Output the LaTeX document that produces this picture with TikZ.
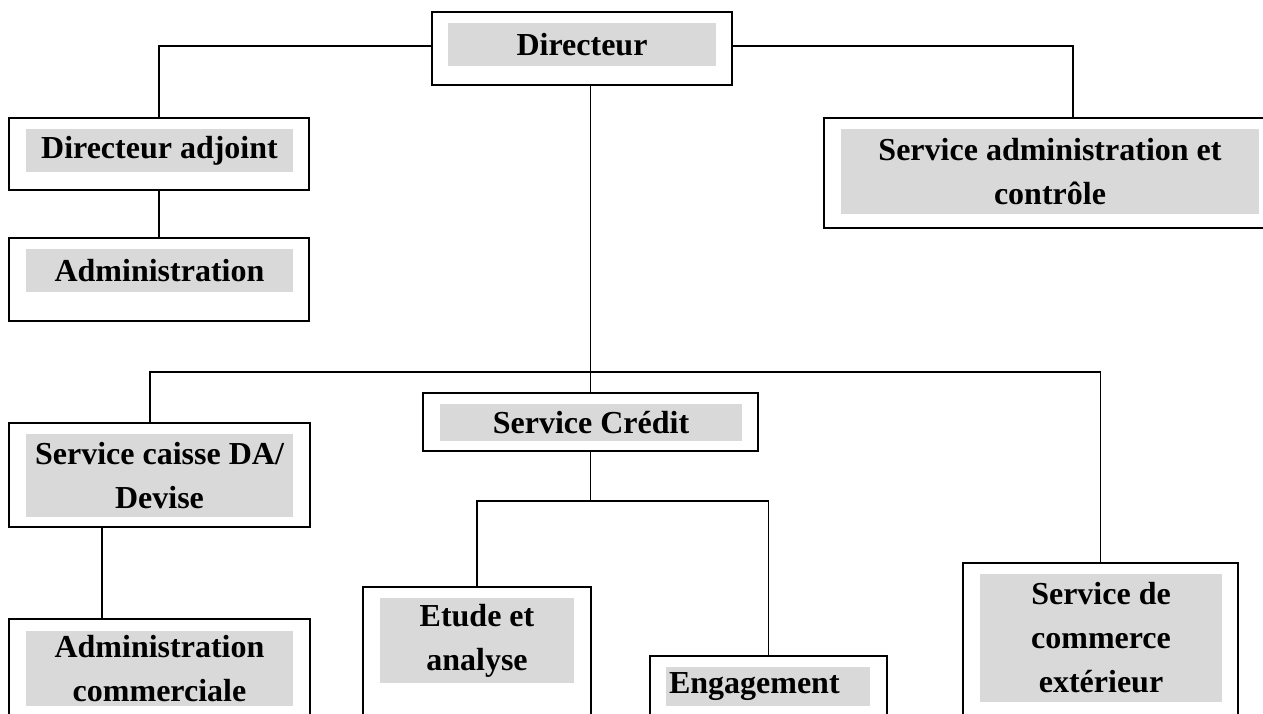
\documentclass[tikz,border=0pt]{standalone}
\usepackage{fontspec}
\setmainfont{Liberation Serif}
\definecolor{shade}{HTML}{D9D9D9}
\tikzset{
	unit/.style={draw, line width=1.1pt, inner sep=0pt},
	tag/.style={fill=shade, inner sep=0pt, align=center, font=\fontsize{16}{22}\selectfont\bfseries},
	link/.style={line width=0.85pt}
}
\begin{document}
\begin{tikzpicture}[x=0.5pt,y=-0.5pt]
	\useasboundingbox (0,0) rectangle (1263,713);
	\clip (0,0) rectangle (1263,713);
	% outer boxes
	\node[unit, minimum width=150pt, minimum height=36.5pt] (dir) at (582,48.5) {};
	\node[unit, minimum width=150pt, minimum height=36pt] (adj) at (159,154) {};
	\node[unit, minimum width=150pt, minimum height=41.5pt] (adm) at (159,279.5) {};
	\node[unit, minimum width=226pt, minimum height=55pt] (sac) at (1050,173) {};
	\node[unit, minimum width=150.5pt, minimum height=52pt] (caisse) at (159.5,475) {};
	\node[unit, minimum width=150.5pt, minimum height=60.5pt] (acom) at (159.5,679.5) {};
	\node[unit, minimum width=167.5pt, minimum height=29pt] (cred) at (590.5,422) {};
	\node[unit, minimum width=114pt, minimum height=76.5pt] (etude) at (477,663.5) {};
	\node[unit, minimum width=118.5pt, minimum height=42pt] (eng) at (768.5,698) {};
	\node[unit, minimum width=137.5pt, minimum height=88.5pt] (com) at (1100.5,651.5) {};
	% shaded labels
	\node[tag, minimum width=134pt, minimum height=21.5pt] (dirT) at (582,44.5) {Directeur};
	\node[tag, minimum width=133.5pt, minimum height=21.5pt] (adjT) at (159.5,150.5) {Directeur adjoint};
	\node[tag, minimum width=133.5pt, minimum height=21.5pt] (admT) at (159.5,270.5) {Administration};
	\node[tag, minimum width=209pt, minimum height=42.5pt] (sacT) at (1050,171.5) {Service administration et\\contrôle};
	\node[tag, minimum width=133.5pt, minimum height=41.5pt] (caisseT) at (159.5,475.5) {Service caisse DA/\\Devise};
	\node[tag, minimum width=133.5pt, minimum height=37.5pt] (acomT) at (159.5,668.5) {Administration\\commerciale};
	\node[tag, minimum width=151pt, minimum height=18.5pt] (credT) at (591,422.5) {Service Crédit};
	\node[tag, minimum width=97pt, minimum height=42.5pt] (etudeT) at (477,640.5) {Etude et\\analyse};
	\node[tag, align=left, text width=99pt, inner xsep=1.5pt, minimum height=19.5pt] (engT) at (768,686.5) {Engagement};
	\node[tag, minimum width=121pt, minimum height=64pt] (comT) at (1101,638) {Service de\\commerce\\extérieur};
	% links
	\coordinate (bus) at (590.5,372);
	\coordinate (sub) at (590.5,501);
	\draw[link] ([yshift=1.25pt]dir.west) -| (adj.north);
	\draw[link] ([yshift=1.25pt]dir.east) -| ([xshift=11.5pt]sac.north);
	\draw[link] (adj.south) -- (adm.north);
	\draw[link] (cred.north |- dir.south) -- (cred.north);
	\draw[link] ([xshift=-4.75pt]caisse.north) |- (bus) -| (com.north);
	\draw[link] ([xshift=-28.75pt]caisse.south) -- ([xshift=-28.75pt]acom.north);
	\draw[link] (cred.south) -- (sub);
	\draw[link] (etude.north) |- (sub) -| (eng.north);
\end{tikzpicture}
\end{document}
